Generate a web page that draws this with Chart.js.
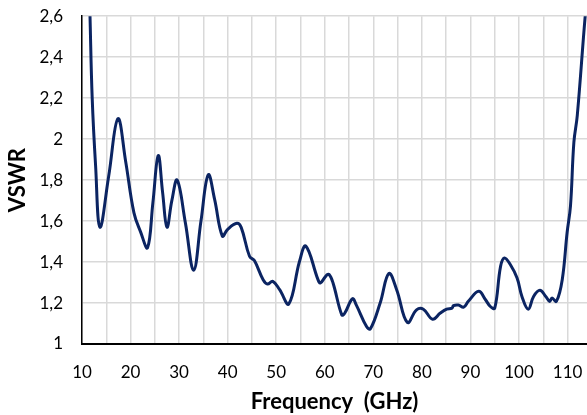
<!DOCTYPE html>
<html>
<head>
<meta charset="utf-8">
<script src="https://cdn.jsdelivr.net/npm/chart.js@4/dist/chart.umd.min.js"></script>
<style>
  html, body { margin: 0; padding: 0; background: #fff; }
  #wrap { width: 587px; height: 415px; }
</style>
</head>
<body>
<div id="wrap"><canvas id="vswr-chart"></canvas></div>
<script>
const freqGHz = [11, 11.65, 12.1, 12.8, 13.7, 15.5, 17.4, 19, 20.7, 22.1, 23.5, 24.6, 25.7, 26.6, 27.5, 28.5, 29.6, 31.3, 33.0, 34.5,
	36.0, 37.3, 38.9, 40.0, 41.9, 42.8, 44.5, 45.5, 47.3, 48.2, 49.3, 50.7, 52.6, 54.8, 56.1, 58.6, 59.1, 60.3, 60.9, 61.7,
	63.5, 64.1, 65.7, 66.5, 68.6, 69.4, 71.4, 73.2, 74.8, 77.0, 78.9, 80.3, 82.2, 83.8, 85.1, 86.2, 86.5, 87.5, 88.6, 89.6,
	91.7, 93.1, 94.1, 95.0, 96.2, 97.0, 98.2, 99.6, 100.6, 101.9, 103.0, 104.3, 105.5, 106.3, 106.8, 107.7, 108.9, 109.9,
	110.6, 111.3, 112.0, 113.7, 114]
const vswr = [3.2, 2.6, 2.2, 1.87, 1.57, 1.82, 2.1, 1.89, 1.64, 1.545, 1.47, 1.69, 1.92, 1.74, 1.57, 1.7, 1.8, 1.59, 1.36, 1.6,
	1.826, 1.707, 1.527, 1.56, 1.589, 1.568, 1.428, 1.407, 1.314, 1.293, 1.306, 1.265, 1.196, 1.404, 1.478, 1.314, 1.298, 1.334, 1.339, 1.298,
	1.142, 1.15, 1.221, 1.19, 1.085, 1.074, 1.2, 1.344, 1.265, 1.105, 1.167, 1.17, 1.121, 1.151, 1.17, 1.175, 1.187, 1.19, 1.18, 1.21,
	1.257, 1.216, 1.183, 1.175, 1.379, 1.42, 1.388, 1.322, 1.232, 1.17, 1.232, 1.262, 1.232, 1.208, 1.224, 1.208, 1.314, 1.543,
	1.674, 1.985, 2.116, 2.62, 2.66]

const xMin = 10, xMax = 114, xStep = 5
const yMin = 1, yMax = 2.6, yStep = 0.2

const points = freqGHz.map(function (f, i) {
	return { x: f, y: vswr[i] }
})

const fontFamily = "Lato, 'Open Sans', 'Liberation Sans', sans-serif"
const gridColor = "#d9d9d9"

let ctx = document.getElementById("vswr-chart").getContext('2d')

let vswrChart = new Chart(ctx, {
	type: 'line',
	data: {
		datasets: [
			{
				label: 'VSWR',
				data: points,
				borderColor: "#0b2462",
				borderWidth: 3,
				pointRadius: 0,
				tension: 0.4,
				fill: false
			}
		]
	},
	options: {
		responsive: true,
		maintainAspectRatio: false,
		animation: false,
		layout: {
			padding: { top: 0, right: 0, left: 0, bottom: 0 }
		},
		scales: {
			x: {
				type: 'linear',
				min: xMin,
				max: xMax,
				afterFit: function (scale) { scale.height = 71 },
				ticks: {
					stepSize: xStep,
					includeBounds: false,
					autoSkip: false,
					maxRotation: 0,
					padding: 2,
					color: "#000",
					font: { family: fontFamily, size: 17 },
					callback: function (v) { return v % 10 === 0 ? String(v) : '' }
				},
				grid: {
					color: gridColor,
					lineWidth: 1.5,
					drawTicks: true,
					tickLength: 16,
					tickColor: 'rgba(0,0,0,0)'
				},
				border: {
					color: "#000",
					width: 2
				},
				title: {
					display: true,
					text: "Frequency  (GHz)",
					color: "#000",
					font: { family: fontFamily, size: 22, weight: 'bold' },
					padding: { top: 0, bottom: 0 }
				}
			},
			y: {
				min: yMin,
				max: yMax,
				afterFit: function (scale) { scale.width = 82 },
				ticks: {
					stepSize: yStep,
					padding: 6,
					color: "#000",
					font: { family: fontFamily, size: 17 },
					callback: function (v) { return String(+v.toFixed(1)).replace('.', ',') }
				},
				grid: {
					color: gridColor,
					lineWidth: 1.5,
					drawTicks: true,
					tickLength: 13,
					tickColor: 'rgba(0,0,0,0)'
				},
				border: {
					color: "#000",
					width: 1.5
				},
				title: {
					display: true,
					text: "VSWR",
					color: "#000",
					font: { family: fontFamily, size: 22, weight: 'bold' },
					padding: { top: 5, bottom: 0 }
				}
			}
		},
		plugins: {
			legend: {
				display: false
			},
			tooltip: {
				enabled: false
			}
		}
	}
});
</script>
</body>
</html>
